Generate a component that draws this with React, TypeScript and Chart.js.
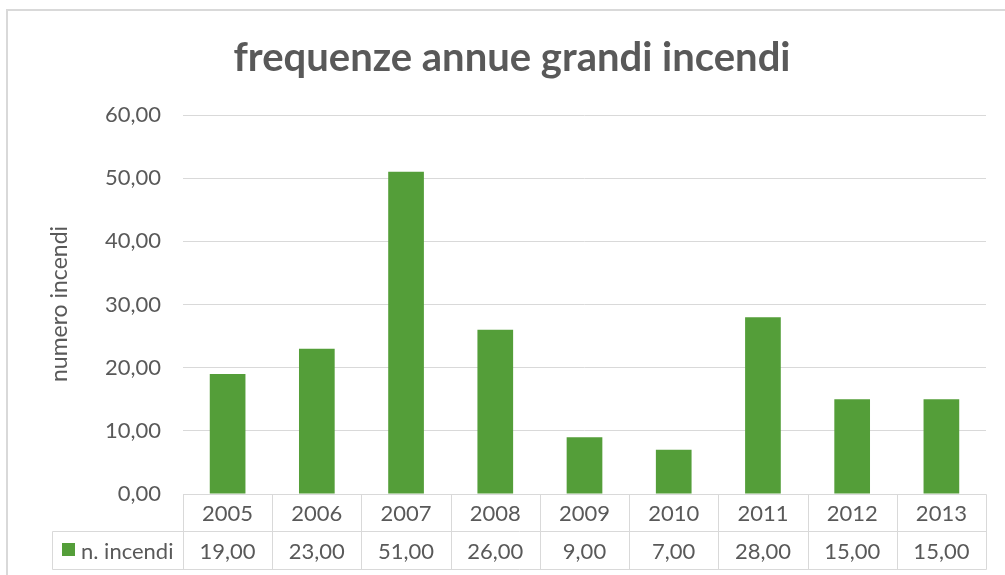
import React, { useEffect, useRef } from "react";
import { Chart, registerables } from "chart.js";

Chart.register(...registerables);

const TITLE = "frequenze annue grandi incendi";
const Y_TITLE = "numero incendi";
const SERIES_NAME = "n. incendi";
const years = ["2005", "2006", "2007", "2008", "2009", "2010", "2011", "2012", "2013"];
const incendi = [19, 23, 51, 26, 9, 7, 28, 15, 15];
const Y_MIN = 0;
const Y_MAX = 60;
const Y_STEP = 10;

const FONT = "Lato, 'Open Sans', sans-serif";
const TEXT = "#595959";
const LINE = "#d9d9d9";
const GREEN = "#549E39";

const fmt = (v: number) => v.toFixed(2).replace(".", ",");

const decorPlugin = {
  id: "decor",
  beforeDraw(chart: any) {
    const ctx = chart.ctx as CanvasRenderingContext2D;
    ctx.save();
    ctx.fillStyle = "#ffffff";
    ctx.fillRect(0, 0, chart.width, chart.height);
    ctx.strokeStyle = LINE;
    ctx.lineWidth = 2;
    ctx.beginPath();
    ctx.moveTo(7, chart.height + 5);
    ctx.lineTo(7, 10);
    ctx.lineTo(chart.width + 5, 10);
    ctx.stroke();
    ctx.restore();
  },
  afterDraw(chart: any) {
    const ctx = chart.ctx as CanvasRenderingContext2D;
    const area = chart.chartArea;
    const xs = chart.scales.x;
    const n = years.length;
    const colW = (area.right - area.left) / n;
    const top = Math.round(area.bottom) + 0.5;
    const mid = top + 37;
    const bot = top + 75;
    const legLeft = 52.5;
    ctx.save();
    // title
    ctx.fillStyle = TEXT;
    ctx.font = `bold 40px ${FONT}`;
    ctx.textAlign = "center";
    ctx.textBaseline = "middle";
    ctx.fillText(TITLE, 512, 58);
    // y title
    ctx.save();
    ctx.translate(60, 304);
    ctx.rotate(-Math.PI / 2);
    ctx.font = `23px ${FONT}`;
    ctx.fillText(Y_TITLE, 0, 0);
    ctx.restore();
    // table lines
    ctx.strokeStyle = LINE;
    ctx.lineWidth = 1;
    ctx.beginPath();
    const L = Math.round(area.left) + 0.5;
    const R = Math.round(area.right) + 0.5;
    ctx.moveTo(L, top); ctx.lineTo(R, top);
    ctx.moveTo(legLeft, mid); ctx.lineTo(R, mid);
    ctx.moveTo(legLeft, bot); ctx.lineTo(R, bot);
    ctx.moveTo(legLeft, mid); ctx.lineTo(legLeft, bot);
    for (let i = 0; i <= n; i++) {
      const x = Math.round(xs.getPixelForValue(i) - colW / 2) + 0.5;
      ctx.moveTo(x, top); ctx.lineTo(x, bot);
    }
    ctx.stroke();
    // texts
    ctx.font = `22px ${FONT}`;
    ctx.fillStyle = TEXT;
    ctx.textAlign = "center";
    for (let i = 0; i < n; i++) {
      const cx = xs.getPixelForValue(i);
      ctx.fillText(years[i], cx, (top + mid) / 2 + 1);
      ctx.fillText(fmt(incendi[i]), cx, (mid + bot) / 2 + 1);
    }
    // legend
    ctx.fillStyle = GREEN;
    ctx.fillRect(62, 543, 13, 13);
    ctx.fillStyle = TEXT;
    ctx.textAlign = "left";
    ctx.fillText(SERIES_NAME, 81, (mid + bot) / 2 + 1);
    ctx.restore();
  },
};

export default function App() {
  const ref = useRef<HTMLCanvasElement | null>(null);
  useEffect(() => {
    if (!ref.current) return;
    const chart = new Chart(ref.current, {
      type: "bar",
      data: {
        labels: years,
        datasets: [
          {
            label: SERIES_NAME,
            data: incendi,
            backgroundColor: GREEN,
            borderWidth: 0,
            barPercentage: 0.8,
            categoryPercentage: 0.5,
          },
        ],
      },
      options: {
        animation: false,
        responsive: false,
        layout: { padding: { left: 6, right: 19, top: 115, bottom: 81 } },
        plugins: { legend: { display: false }, title: { display: false }, tooltip: { enabled: false } },
        scales: {
          x: { display: false, offset: true },
          y: {
            min: Y_MIN,
            max: Y_MAX,
            ticks: {
              stepSize: Y_STEP,
              color: TEXT,
              font: { family: FONT, size: 22 },
              padding: 22,
              callback: (v: any) => fmt(Number(v)),
            },
            grid: { color: LINE, lineWidth: 1, drawTicks: false },
            border: { display: false },
            afterFit: (s: any) => {
              s.width = 177;
            },
          },
        },
      },
      plugins: [decorPlugin],
    });
    return () => chart.destroy();
  }, []);
  return (
    <div style={{ position: "fixed", left: 0, top: 0, width: 1005, height: 575, background: "#fff" }}>
      <canvas ref={ref} width={1005} height={575} style={{ width: 1005, height: 575, display: "block" }} />
    </div>
  );
}
